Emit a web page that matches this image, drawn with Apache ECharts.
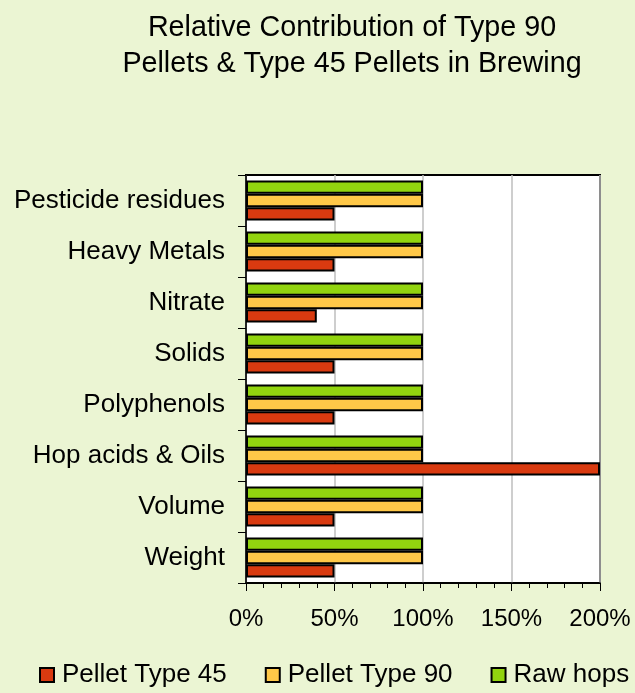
<!DOCTYPE html>
<html>
<head>
<meta charset="utf-8">
<script src="https://cdn.jsdelivr.net/npm/echarts@6/dist/echarts.min.js"></script>
<style>
  html, body { margin: 0; padding: 0; background: #EBF5D3; }
  #chart { width: 635px; height: 693px; }
</style>
</head>
<body>
<div id="chart"></div>
<script>
// categories listed bottom to top (category axis starts at the bottom)
const categories = ['Weight', 'Volume', 'Hop acids & Oils', 'Polyphenols', 'Solids', 'Nitrate', 'Heavy Metals', 'Pesticide residues']
const rawHops = [100, 100, 100, 100, 100, 100, 100, 100]
const pellet90 = [100, 100, 100, 100, 100, 100, 100, 100]
const pellet45 = [50, 50, 200, 50, 50, 40, 50, 50]
const legendNames = ['Pellet Type 45', 'Pellet Type 90', 'Raw hops']

const font = 'Liberation Sans, Arial, sans-serif'
const barBorder = { borderColor: '#000', borderWidth: 2 }

const chart = echarts.init(document.getElementById('chart'))
const option = {
	backgroundColor: '#EBF5D3',
	animation: false,
	title: {
		text: 'Relative Contribution of Type 90\nPellets & Type 45 Pellets in Brewing',
		left: 347,
		top: 5,
		textAlign: 'center',
		textStyle: {
			fontFamily: font,
			fontSize: 28.7,
			fontWeight: 'normal',
			color: '#000',
			lineHeight: 36
		}
	},
	legend: {
		data: legendNames,
		left: 34,
		top: 657,
		width: 700,
		icon: 'rect',
		itemWidth: 14,
		itemHeight: 14,
		itemGap: 38,
		itemStyle: { borderColor: '#000', borderWidth: 2 },
		textStyle: {
			fontFamily: font,
			fontSize: 26,
			color: '#000',
			padding: [0, 0, 0, 3]
		}
	},
	grid: {
		left: 246,
		right: 35,
		top: 175,
		bottom: 110,
		show: true,
		backgroundColor: '#fff',
		borderColor: '#000',
		borderWidth: 2
	},
	xAxis: {
		type: 'value',
		min: 0,
		max: 200,
		interval: 50,
		axisLine: { show: true, lineStyle: { color: '#000', width: 1.5 } },
		axisTick: { show: true, length: 8, lineStyle: { color: '#000', width: 1 } },
		minorTick: { show: true, splitNumber: 5, length: 5, lineStyle: { color: '#000', width: 1 } },
		splitLine: { show: true, lineStyle: { color: '#BEBEBE', width: 1.5 } },
		axisLabel: {
			formatter: '{value}%',
			fontFamily: font,
			fontSize: 24,
			color: '#000',
			margin: 24
		}
	},
	yAxis: {
		type: 'category',
		data: categories,
		axisLine: { show: true, lineStyle: { color: '#000', width: 1.5 } },
		axisTick: { show: true, length: 8, lineStyle: { color: '#000', width: 1 } },
		axisLabel: {
			fontFamily: font,
			fontSize: 26,
			color: '#000',
			margin: 21
		}
	},
	series: [
		{
			name: 'Raw hops',
			type: 'bar',
			data: rawHops,
			barWidth: 13.3,
			barGap: '0%',
			itemStyle: { color: '#92D40F', ...barBorder }
		},
		{
			name: 'Pellet Type 90',
			type: 'bar',
			data: pellet90,
			barWidth: 13.3,
			barGap: '0%',
			itemStyle: { color: '#FFC848', ...barBorder }
		},
		{
			name: 'Pellet Type 45',
			type: 'bar',
			data: pellet45,
			barWidth: 13.3,
			barGap: '0%',
			itemStyle: { color: '#D93A10', ...barBorder }
		}
	]
}
chart.setOption(option)
</script>
</body>
</html>
